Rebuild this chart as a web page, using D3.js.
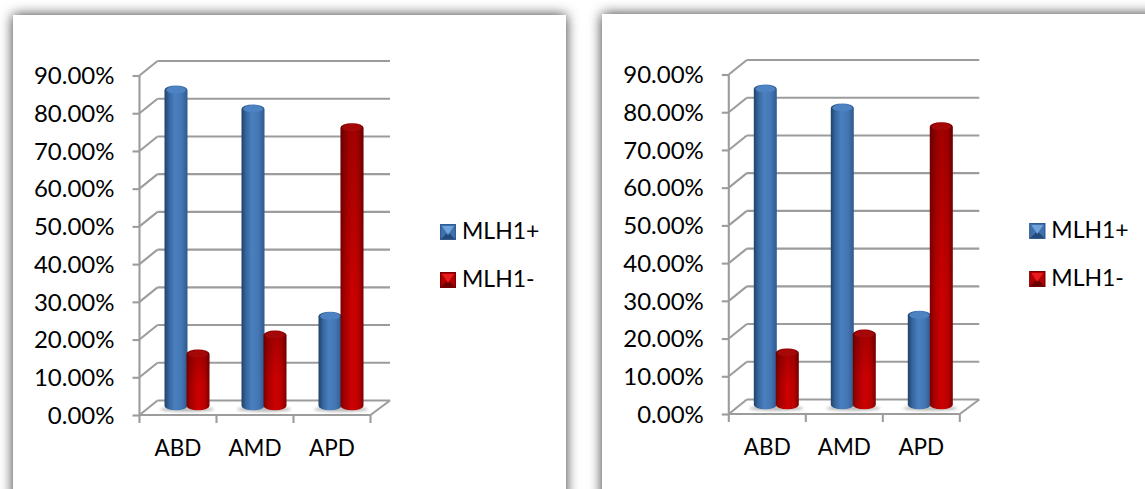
<!DOCTYPE html>
<html><head><meta charset="utf-8">
<script src="https://cdn.jsdelivr.net/npm/d3@7"></script>
<style>html,body{margin:0;padding:0;background:#fff;overflow:hidden}svg{display:block}text{font-family:Lato,sans-serif;fill:#000}</style>
</head><body><svg id="c" width="1145" height="489"></svg>
<script>
const categories = ["ABD","AMD","APD"];
const mlhPlus = [85,80,25];
const mlhMinus = [15,20,75];
const yTicks = [0,10,20,30,40,50,60,70,80,90];
const seriesNames = ["MLH1+","MLH1-"];
const seriesValues = [mlhPlus,mlhMinus];
const svg = d3.select("#c");
const defs = svg.append("defs");
const f = defs.append("filter").attr("id","sh").attr("x","-10%").attr("y","-10%").attr("width","120%").attr("height","120%");
f.append("feDropShadow").attr("dx",0).attr("dy",0).attr("stdDeviation",6.5).attr("flood-color","#000").attr("flood-opacity",.8);
const blurF = defs.append("filter").attr("id","bl").attr("x","-30%").attr("y","-100%").attr("width","160%").attr("height","300%");
blurF.append("feGaussianBlur").attr("stdDeviation",1.5);
function hg(id,stops){const g=defs.append("linearGradient").attr("id",id);stops.forEach(s=>g.append("stop").attr("offset",s[0]).attr("stop-color",s[1]));}
hg("b0",[[0,"#1f4268"],[.2,"#36669f"],[.45,"#4a80c0"],[.75,"#4375b2"],[1,"#2d5a8e"]]);
hg("r0",[[0,"#7a0000"],[.2,"#a80000"],[.5,"#cc0000"],[.78,"#bd0000"],[1,"#7c0000"]]);
const vs=defs.append("linearGradient").attr("id","rv").attr("x1",0).attr("x2",0).attr("y1",0).attr("y2",1);
vs.append("stop").attr("offset",0).attr("stop-color","#000").attr("stop-opacity",.2);
vs.append("stop").attr("offset",.6).attr("stop-color","#000").attr("stop-opacity",0);
const gradIds=["b0","r0"], capCols=["#4d83c2","#a50808"];

const panels=[{dx:0,dy:0,rect:[13,15,553,520]},{dx:589.3,dy:-1,rect:[602,14,600,520]}];
panels.forEach(p=>svg.append("rect").attr("x",p.rect[0]).attr("y",p.rect[1]).attr("width",p.rect[2]).attr("height",p.rect[3]).attr("fill","#fff").attr("filter","url(#sh)"));

const left=139.5,right=370.5,depthX=18,depthY=14.5,gridRight=390;
const y=d3.scaleLinear().domain([0,90]).range([415,75.5]);
const x=d3.scaleBand().domain(categories).range([left,right]);
const barY=d3.scaleLinear().domain([0,90]).range([410.5,71.2]);
const barW=23,gap=22,ry=4.5,baseY=405.8;
const gridCol="#9c9c9c";

panels.forEach(p=>{
  const g=svg.append("g").attr("transform",`translate(${p.dx},${p.dy})`);
  const ln=(a,b,c,d)=>g.append("line").attr("x1",a).attr("y1",b).attr("x2",c).attr("y2",d).attr("stroke",gridCol).attr("stroke-width",2.1);
  yTicks.forEach(t=>{
    ln(left,y(t),left+depthX,y(t)-depthY);
    ln(left+depthX,y(t)-depthY,gridRight,y(t)-depthY);
  });
  ln(right,y(0),gridRight,y(0)-depthY);
  const ax=d3.axisLeft(y).tickValues(yTicks).tickFormat(d=>d.toFixed(2)+"%").tickSize(7).tickPadding(18);
  const ga=g.append("g").attr("transform",`translate(${left},0)`).call(ax);
  ga.selectAll("line").attr("stroke",gridCol).attr("stroke-width",2.1);
  ga.select(".domain").attr("stroke",gridCol).attr("stroke-width",2.1).attr("d",`M0,${y(90)}V${y(0)}`);
  ga.selectAll("text").style("font-family","Lato,sans-serif").style("font-size","24px").attr("fill","#000").attr("dy","0.34em");
  const bx=d3.axisBottom(x).tickSize(0).tickPadding(25);
  const gb=g.append("g").attr("transform",`translate(0,${y(0)})`).call(bx);
  gb.select(".domain").attr("stroke",gridCol).attr("stroke-width",2.1).attr("d",`M${left},0H${right}`);
  gb.selectAll("text").style("font-family","Lato,sans-serif").style("font-size","22.5px").attr("fill","#000");
  [0,1,2,3].forEach(i=>ln(left+i*x.step(),y(0),left+i*x.step(),y(0)+8));

  categories.forEach((c,ci)=>{
    const cx=x(c)+x.bandwidth()/2+depthX/2;
    g.append("ellipse").attr("cx",cx).attr("cy",baseY+3.5).attr("rx",gap+5).attr("ry",2.5).attr("fill","#888").attr("opacity",.6).attr("filter","url(#bl)");
    seriesValues.forEach((vals,si)=>{
      const mx=cx+(si-.5)*gap, top=barY(vals[ci]), h=barW/2;
      const d=`M${mx-h},${top}V${baseY}A${h},${ry} 0 0 0 ${mx+h},${baseY}V${top}A${h},${ry} 0 0 0 ${mx-h},${top}Z`;
      g.append("path").attr("d",d).attr("fill",`url(#${gradIds[si]})`);
      if(si===1){g.append("path").attr("d",d).attr("fill","url(#rv)");}
      g.append("ellipse").attr("cx",mx).attr("cy",top).attr("rx",h-1.5).attr("ry",ry-1).attr("fill",capCols[si]);
    });
  });

  const legX=440, sw=16, legY=[224,272], tones=[["#6fa3dc","#2f5c93","#3f70ab","#234a78"],["#e81c1c","#7a0000","#b00000","#6a0000"]];
  seriesNames.forEach((n,i)=>{
    const a=legX,b=legY[i],s=sw,t=tones[i];
    const tri=(pts,col)=>g.append("polygon").attr("points",pts.map(q=>q.join(",")).join(" ")).attr("fill",col);
    g.append("rect").attr("x",a).attr("y",b).attr("width",s).attr("height",s).attr("fill",t[2]);
    tri([[a,b+s],[a+s,b+s],[a+s/2,b+s/2]],t[3]);
    tri([[a+2,b+2],[a+s-2,b+2],[a+s/2,b+s/2+3]],t[0]);
    g.append("rect").attr("x",a+.5).attr("y",b+.5).attr("width",s-1).attr("height",s-1).attr("fill","none").attr("stroke",t[1]).attr("stroke-width",1);
    g.append("text").attr("x",legX+22).attr("y",b+15).style("font-size","23px").text(n);
  });
});
</script></body></html>
